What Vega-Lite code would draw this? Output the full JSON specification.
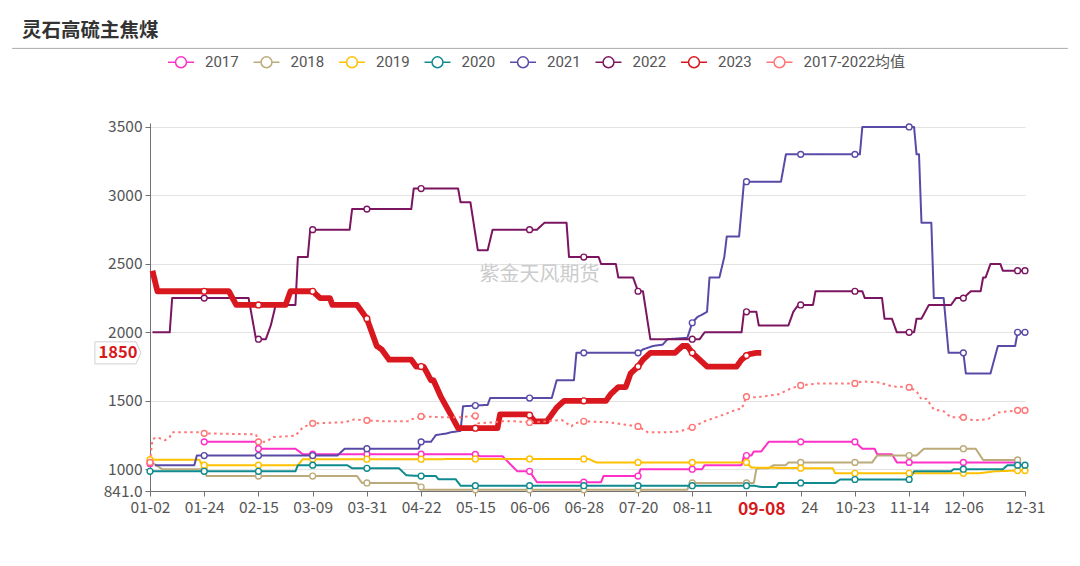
{
  "$schema": "https://vega.github.io/schema/vega-lite/v6.json",
  "width": 875,
  "height": 368,
  "autosize": {"type": "none"},
  "padding": {"left": 150, "top": 123, "right": 55, "bottom": 75},
  "background": "white",
  "config": {
    "view": {"stroke": null},
    "font": "Noto Sans CJK SC",
    "axis": {"labelFont": "Noto Sans CJK SC", "labelFontSize": 15.5, "labelColor": "#555555", "domainColor": "#707070", "tickColor": "#707070", "title": null}
  },
  "title": {"text": "灵石高硫主焦煤", "anchor": "start", "frame": "group", "dx": -128, "offset": 6, "fontSize": 19.5, "fontWeight": "bold", "font": "Noto Sans CJK SC", "color": "#333333"},
  "datasets": {
    "prices": [
      {"s":"2017","i":0,"v":1040,"g":"a"},
      {"s":"2017","i":22,"v":1200},{"s":"2017","i":43,"v":1200},{"s":"2017","i":44,"v":1150},{"s":"2017","i":59,"v":1150},{"s":"2017","i":62,"v":1110},{"s":"2017","i":66,"v":1110},{"s":"2017","i":88,"v":1110},{"s":"2017","i":110,"v":1110},{"s":"2017","i":131,"v":1110},{"s":"2017","i":132,"v":1108},{"s":"2017","i":134,"v":1095},{"s":"2017","i":143,"v":1095},{"s":"2017","i":147,"v":1022},{"s":"2017","i":149,"v":985},{"s":"2017","i":154,"v":985},{"s":"2017","i":157,"v":905},{"s":"2017","i":176,"v":905},{"s":"2017","i":183,"v":905},{"s":"2017","i":184,"v":950},{"s":"2017","i":198,"v":950},{"s":"2017","i":199,"v":1000},{"s":"2017","i":220,"v":1000},{"s":"2017","i":224,"v":1000},{"s":"2017","i":225,"v":1030},{"s":"2017","i":240,"v":1030},{"s":"2017","i":241,"v":1100},{"s":"2017","i":242,"v":1100},{"s":"2017","i":244,"v":1100},{"s":"2017","i":245,"v":1130},{"s":"2017","i":248,"v":1130},{"s":"2017","i":251,"v":1200},{"s":"2017","i":264,"v":1200},{"s":"2017","i":286,"v":1200},{"s":"2017","i":289,"v":1150},{"s":"2017","i":294,"v":1150},{"s":"2017","i":295,"v":1110},{"s":"2017","i":301,"v":1110},{"s":"2017","i":303,"v":1050},{"s":"2017","i":308,"v":1050},{"s":"2017","i":330,"v":1050},{"s":"2017","i":352,"v":1050},
      {"s":"2018","i":0,"v":1058},{"s":"2018","i":5,"v":1000},{"s":"2018","i":21,"v":1000},{"s":"2018","i":22,"v":1000},{"s":"2018","i":23,"v":950},{"s":"2018","i":44,"v":950},{"s":"2018","i":66,"v":950},{"s":"2018","i":84,"v":950},{"s":"2018","i":86,"v":900},{"s":"2018","i":88,"v":900},{"s":"2018","i":108,"v":900},{"s":"2018","i":110,"v":870},{"s":"2018","i":111,"v":850},{"s":"2018","i":132,"v":850},{"s":"2018","i":154,"v":850},{"s":"2018","i":176,"v":850},{"s":"2018","i":198,"v":850},{"s":"2018","i":218,"v":850},{"s":"2018","i":219,"v":900},{"s":"2018","i":220,"v":900},{"s":"2018","i":242,"v":900},{"s":"2018","i":245,"v":900},{"s":"2018","i":246,"v":1000},{"s":"2018","i":247,"v":1007},{"s":"2018","i":251,"v":1007},{"s":"2018","i":253,"v":1030},{"s":"2018","i":258,"v":1030},{"s":"2018","i":259,"v":1050},{"s":"2018","i":264,"v":1050},{"s":"2018","i":286,"v":1050},{"s":"2018","i":293,"v":1050},{"s":"2018","i":295,"v":1100},{"s":"2018","i":308,"v":1100},{"s":"2018","i":311,"v":1100},{"s":"2018","i":314,"v":1150},{"s":"2018","i":330,"v":1150},{"s":"2018","i":335,"v":1150},{"s":"2018","i":338,"v":1068},{"s":"2018","i":352,"v":1068},
      {"s":"2019","i":0,"v":1070},{"s":"2019","i":20,"v":1070},{"s":"2019","i":21,"v":1035},{"s":"2019","i":22,"v":1030},{"s":"2019","i":44,"v":1030},{"s":"2019","i":60,"v":1030},{"s":"2019","i":62,"v":1073},{"s":"2019","i":66,"v":1073},{"s":"2019","i":88,"v":1073},{"s":"2019","i":110,"v":1073},{"s":"2019","i":132,"v":1075},{"s":"2019","i":154,"v":1075},{"s":"2019","i":176,"v":1075},{"s":"2019","i":178,"v":1075},{"s":"2019","i":181,"v":1050},{"s":"2019","i":198,"v":1050},{"s":"2019","i":220,"v":1050},{"s":"2019","i":242,"v":1050},{"s":"2019","i":244,"v":1012},{"s":"2019","i":264,"v":1008},{"s":"2019","i":277,"v":1008},{"s":"2019","i":278,"v":970},{"s":"2019","i":286,"v":970},{"s":"2019","i":308,"v":970},{"s":"2019","i":330,"v":970},{"s":"2019","i":336,"v":970},{"s":"2019","i":343,"v":985},{"s":"2019","i":352,"v":990},{"s":"2019","i":355,"v":990},
      {"s":"2020","i":0,"v":985},{"s":"2020","i":22,"v":985},{"s":"2020","i":44,"v":985},{"s":"2020","i":59,"v":985},{"s":"2020","i":60,"v":1030},{"s":"2020","i":66,"v":1030},{"s":"2020","i":80,"v":1030},{"s":"2020","i":82,"v":1007},{"s":"2020","i":88,"v":1007},{"s":"2020","i":101,"v":1007},{"s":"2020","i":104,"v":956},{"s":"2020","i":110,"v":950},{"s":"2020","i":116,"v":950},{"s":"2020","i":117,"v":927},{"s":"2020","i":124,"v":927},{"s":"2020","i":126,"v":880},{"s":"2020","i":132,"v":880},{"s":"2020","i":154,"v":880},{"s":"2020","i":176,"v":880},{"s":"2020","i":198,"v":880},{"s":"2020","i":220,"v":880},{"s":"2020","i":242,"v":880},{"s":"2020","i":245,"v":880},{"s":"2020","i":248,"v":870},{"s":"2020","i":254,"v":870},{"s":"2020","i":255,"v":900},{"s":"2020","i":264,"v":900},{"s":"2020","i":278,"v":900},{"s":"2020","i":280,"v":925},{"s":"2020","i":286,"v":925},{"s":"2020","i":308,"v":925},{"s":"2020","i":310,"v":985},{"s":"2020","i":325,"v":985},{"s":"2020","i":326,"v":1000},{"s":"2020","i":330,"v":1000},{"s":"2020","i":346,"v":1000},{"s":"2020","i":348,"v":1030},{"s":"2020","i":352,"v":1030},{"s":"2020","i":355,"v":1030},
      {"s":"2021","i":2,"v":1030},{"s":"2021","i":18,"v":1030},{"s":"2021","i":19,"v":1100},{"s":"2021","i":22,"v":1100},{"s":"2021","i":44,"v":1100},{"s":"2021","i":66,"v":1100},{"s":"2021","i":76,"v":1100},{"s":"2021","i":79,"v":1150},{"s":"2021","i":88,"v":1150},{"s":"2021","i":109,"v":1150},{"s":"2021","i":110,"v":1200},{"s":"2021","i":114,"v":1200},{"s":"2021","i":116,"v":1250},{"s":"2021","i":120,"v":1260},{"s":"2021","i":122,"v":1270},{"s":"2021","i":126,"v":1280},{"s":"2021","i":127,"v":1460},{"s":"2021","i":132,"v":1465},{"s":"2021","i":137,"v":1470},{"s":"2021","i":138,"v":1520},{"s":"2021","i":154,"v":1520},{"s":"2021","i":163,"v":1520},{"s":"2021","i":165,"v":1650},{"s":"2021","i":172,"v":1650},{"s":"2021","i":173,"v":1850},{"s":"2021","i":176,"v":1850},{"s":"2021","i":198,"v":1850},{"s":"2021","i":200,"v":1875},{"s":"2021","i":204,"v":1900},{"s":"2021","i":208,"v":1910},{"s":"2021","i":210,"v":1950},{"s":"2021","i":218,"v":1960},{"s":"2021","i":220,"v":2070},{"s":"2021","i":222,"v":2110},{"s":"2021","i":226,"v":2150},{"s":"2021","i":227,"v":2400},{"s":"2021","i":231,"v":2400},{"s":"2021","i":233,"v":2550},{"s":"2021","i":234,"v":2700},{"s":"2021","i":239,"v":2700},{"s":"2021","i":241,"v":3100},{"s":"2021","i":242,"v":3100},{"s":"2021","i":256,"v":3100},{"s":"2021","i":258,"v":3300},{"s":"2021","i":264,"v":3300},{"s":"2021","i":286,"v":3300},{"s":"2021","i":288,"v":3300},{"s":"2021","i":289,"v":3500},{"s":"2021","i":308,"v":3500},{"s":"2021","i":310,"v":3500},{"s":"2021","i":311,"v":3300},{"s":"2021","i":312,"v":3300},{"s":"2021","i":313,"v":2800},{"s":"2021","i":317,"v":2800},{"s":"2021","i":318,"v":2250},{"s":"2021","i":322,"v":2250},{"s":"2021","i":324,"v":1850},{"s":"2021","i":330,"v":1850},{"s":"2021","i":331,"v":1700},{"s":"2021","i":341,"v":1700},{"s":"2021","i":344,"v":1900},{"s":"2021","i":351,"v":1900},{"s":"2021","i":352,"v":2000},{"s":"2021","i":355,"v":2000},
      {"s":"2022","i":1,"v":2000},{"s":"2022","i":8,"v":2000},{"s":"2022","i":9,"v":2250},{"s":"2022","i":22,"v":2250},{"s":"2022","i":40,"v":2250},{"s":"2022","i":43,"v":1950},{"s":"2022","i":44,"v":1950},{"s":"2022","i":47,"v":1950},{"s":"2022","i":49,"v":2050},{"s":"2022","i":51,"v":2200},{"s":"2022","i":59,"v":2200},{"s":"2022","i":60,"v":2550},{"s":"2022","i":64,"v":2550},{"s":"2022","i":65,"v":2750},{"s":"2022","i":66,"v":2750},{"s":"2022","i":81,"v":2750},{"s":"2022","i":82,"v":2900},{"s":"2022","i":88,"v":2900},{"s":"2022","i":106,"v":2900},{"s":"2022","i":107,"v":3050},{"s":"2022","i":110,"v":3050},{"s":"2022","i":125,"v":3050},{"s":"2022","i":126,"v":2950},{"s":"2022","i":130,"v":2950},{"s":"2022","i":133,"v":2600},{"s":"2022","i":137,"v":2600},{"s":"2022","i":139,"v":2750},{"s":"2022","i":154,"v":2750},{"s":"2022","i":157,"v":2750},{"s":"2022","i":160,"v":2800},{"s":"2022","i":169,"v":2800},{"s":"2022","i":170,"v":2550},{"s":"2022","i":176,"v":2550},{"s":"2022","i":182,"v":2550},{"s":"2022","i":183,"v":2500},{"s":"2022","i":189,"v":2500},{"s":"2022","i":190,"v":2400},{"s":"2022","i":196,"v":2400},{"s":"2022","i":198,"v":2300},{"s":"2022","i":200,"v":2300},{"s":"2022","i":203,"v":1950},{"s":"2022","i":220,"v":1950},{"s":"2022","i":223,"v":1950},{"s":"2022","i":225,"v":2000},{"s":"2022","i":240,"v":2000},{"s":"2022","i":241,"v":2150},{"s":"2022","i":242,"v":2150},{"s":"2022","i":246,"v":2150},{"s":"2022","i":247,"v":2050},{"s":"2022","i":259,"v":2050},{"s":"2022","i":261,"v":2150},{"s":"2022","i":263,"v":2200},{"s":"2022","i":264,"v":2200},{"s":"2022","i":269,"v":2200},{"s":"2022","i":270,"v":2300},{"s":"2022","i":286,"v":2300},{"s":"2022","i":289,"v":2300},{"s":"2022","i":290,"v":2250},{"s":"2022","i":297,"v":2250},{"s":"2022","i":298,"v":2100},{"s":"2022","i":301,"v":2100},{"s":"2022","i":303,"v":2000},{"s":"2022","i":308,"v":2000},{"s":"2022","i":310,"v":2000},{"s":"2022","i":311,"v":2100},{"s":"2022","i":313,"v":2100},{"s":"2022","i":316,"v":2200},{"s":"2022","i":325,"v":2200},{"s":"2022","i":327,"v":2250},{"s":"2022","i":330,"v":2250},{"s":"2022","i":333,"v":2300},{"s":"2022","i":337,"v":2300},{"s":"2022","i":338,"v":2400},{"s":"2022","i":339,"v":2400},{"s":"2022","i":341,"v":2500},{"s":"2022","i":345,"v":2500},{"s":"2022","i":346,"v":2450},{"s":"2022","i":352,"v":2450},{"s":"2022","i":355,"v":2450},
      {"s":"2023","i":1,"v":2450},{"s":"2023","i":3,"v":2300},{"s":"2023","i":22,"v":2300},{"s":"2023","i":32,"v":2300},{"s":"2023","i":35,"v":2200},{"s":"2023","i":44,"v":2200},{"s":"2023","i":55,"v":2200},{"s":"2023","i":57,"v":2300},{"s":"2023","i":66,"v":2300},{"s":"2023","i":69,"v":2250},{"s":"2023","i":73,"v":2250},{"s":"2023","i":74,"v":2200},{"s":"2023","i":84,"v":2200},{"s":"2023","i":88,"v":2100},{"s":"2023","i":90,"v":2000},{"s":"2023","i":92,"v":1900},{"s":"2023","i":94,"v":1875},{"s":"2023","i":97,"v":1800},{"s":"2023","i":106,"v":1800},{"s":"2023","i":108,"v":1750},{"s":"2023","i":110,"v":1750},{"s":"2023","i":111,"v":1750},{"s":"2023","i":114,"v":1650},{"s":"2023","i":115,"v":1650},{"s":"2023","i":118,"v":1530},{"s":"2023","i":122,"v":1400},{"s":"2023","i":125,"v":1300},{"s":"2023","i":132,"v":1300},{"s":"2023","i":141,"v":1300},{"s":"2023","i":142,"v":1400},{"s":"2023","i":153,"v":1400},{"s":"2023","i":154,"v":1395},{"s":"2023","i":156,"v":1350},{"s":"2023","i":161,"v":1350},{"s":"2023","i":165,"v":1450},{"s":"2023","i":168,"v":1500},{"s":"2023","i":176,"v":1500},{"s":"2023","i":185,"v":1500},{"s":"2023","i":187,"v":1550},{"s":"2023","i":190,"v":1600},{"s":"2023","i":193,"v":1600},{"s":"2023","i":195,"v":1700},{"s":"2023","i":198,"v":1750},{"s":"2023","i":200,"v":1800},{"s":"2023","i":203,"v":1850},{"s":"2023","i":213,"v":1850},{"s":"2023","i":216,"v":1900},{"s":"2023","i":218,"v":1900},{"s":"2023","i":220,"v":1850},{"s":"2023","i":223,"v":1800},{"s":"2023","i":226,"v":1750},{"s":"2023","i":238,"v":1750},{"s":"2023","i":240,"v":1800},{"s":"2023","i":242,"v":1830},{"s":"2023","i":243,"v":1840},{"s":"2023","i":246,"v":1850},{"s":"2023","i":248,"v":1850},
      {"s":"2017-2022均值","i":0,"v":1050},{"s":"2017-2022均值","i":1,"v":1220},{"s":"2017-2022均值","i":3,"v":1233},{"s":"2017-2022均值","i":6,"v":1211},{"s":"2017-2022均值","i":8,"v":1235},{"s":"2017-2022均值","i":9,"v":1270},{"s":"2017-2022均值","i":20,"v":1270},{"s":"2017-2022均值","i":22,"v":1262},{"s":"2017-2022均值","i":43,"v":1255},{"s":"2017-2022均值","i":44,"v":1200},{"s":"2017-2022均值","i":47,"v":1200},{"s":"2017-2022均值","i":50,"v":1235},{"s":"2017-2022均值","i":55,"v":1240},{"s":"2017-2022均值","i":59,"v":1245},{"s":"2017-2022均值","i":62,"v":1306},{"s":"2017-2022均值","i":66,"v":1335},{"s":"2017-2022均值","i":79,"v":1343},{"s":"2017-2022均值","i":83,"v":1364},{"s":"2017-2022均值","i":88,"v":1357},{"s":"2017-2022均值","i":95,"v":1350},{"s":"2017-2022均值","i":105,"v":1350},{"s":"2017-2022均值","i":106,"v":1364},{"s":"2017-2022均值","i":110,"v":1386},{"s":"2017-2022均值","i":118,"v":1380},{"s":"2017-2022均值","i":126,"v":1380},{"s":"2017-2022均值","i":132,"v":1390},{"s":"2017-2022均值","i":133,"v":1335},{"s":"2017-2022均值","i":139,"v":1342},{"s":"2017-2022均值","i":143,"v":1350},{"s":"2017-2022均值","i":148,"v":1350},{"s":"2017-2022均值","i":154,"v":1342},{"s":"2017-2022均值","i":161,"v":1350},{"s":"2017-2022均值","i":167,"v":1360},{"s":"2017-2022均值","i":171,"v":1313},{"s":"2017-2022均值","i":172,"v":1335},{"s":"2017-2022均值","i":176,"v":1350},{"s":"2017-2022均值","i":186,"v":1343},{"s":"2017-2022均值","i":195,"v":1320},{"s":"2017-2022均值","i":198,"v":1313},{"s":"2017-2022均值","i":202,"v":1270},{"s":"2017-2022均值","i":210,"v":1270},{"s":"2017-2022均值","i":215,"v":1277},{"s":"2017-2022均值","i":220,"v":1306},{"s":"2017-2022均值","i":225,"v":1350},{"s":"2017-2022均值","i":233,"v":1400},{"s":"2017-2022均值","i":238,"v":1437},{"s":"2017-2022均值","i":240,"v":1440},{"s":"2017-2022均值","i":242,"v":1530},{"s":"2017-2022均值","i":246,"v":1525},{"s":"2017-2022均值","i":255,"v":1547},{"s":"2017-2022均值","i":260,"v":1590},{"s":"2017-2022均值","i":264,"v":1612},{"s":"2017-2022均值","i":271,"v":1627},{"s":"2017-2022均值","i":286,"v":1627},{"s":"2017-2022均值","i":289,"v":1641},{"s":"2017-2022均值","i":296,"v":1634},{"s":"2017-2022均值","i":301,"v":1605},{"s":"2017-2022均值","i":308,"v":1598},{"s":"2017-2022均值","i":311,"v":1570},{"s":"2017-2022均值","i":313,"v":1510},{"s":"2017-2022均值","i":315,"v":1515},{"s":"2017-2022均值","i":318,"v":1437},{"s":"2017-2022均值","i":322,"v":1423},{"s":"2017-2022均值","i":325,"v":1379},{"s":"2017-2022均值","i":330,"v":1379},{"s":"2017-2022均值","i":334,"v":1357},{"s":"2017-2022均值","i":340,"v":1365},{"s":"2017-2022均值","i":344,"v":1415},{"s":"2017-2022均值","i":352,"v":1430},{"s":"2017-2022均值","i":355,"v":1430}
    ]
  },
  "layer": [
    {
      "data": {"values": [{"t": "紫金天风期货"}]},
      "mark": {"type": "text", "fontSize": 20, "color": "#cccccc", "font": "Noto Sans CJK SC", "align": "center", "baseline": "middle"},
      "encoding": {
        "x": {"datum": 158, "type": "quantitative", "scale": {"domain": [0, 355], "nice": false, "zero": false}},
        "y": {"datum": 2421, "type": "quantitative", "scale": {"domain": [841, 3529], "nice": false, "zero": false}},
        "text": {"field": "t"}
      }
    },
    {
      "data": {"values": [{"t": "rule"}]},
      "mark": {"type": "rule", "color": "#aaaaaa", "strokeWidth": 1, "clip": false},
      "encoding": {
        "x": {"datum": -56, "type": "quantitative"},
        "x2": {"datum": 372.4},
        "y": {"datum": 4074, "type": "quantitative"}
      }
    },
    {
      "data": {"name": "prices"},
      "mark": {"type": "line", "interpolate": "linear", "strokeJoin": "round", "strokeCap": "butt"},
      "encoding": {
        "x": {"field": "i", "type": "quantitative", "scale": {"domain": [0, 355], "nice": false, "zero": false},
          "axis": {
            "values": [0,22,44,66,88,110,132,154,176,198,220,242,248,264,286,308,330,355],
            "labelExpr": "datum.value == 248 ? '09-08' : datum.value == 242 ? '' : datum.value == 264 ? '24' : ['01-02','01-24','02-15','03-09','03-31','04-22','05-15','06-06','06-28','07-20','08-11','','','10-23','11-14','12-06','12-31'][floor(datum.value/22)]",
            "labelOverlap": false,
            "labelPadding": 4,
            "tickSize": 5,
            "grid": false,
            "labelColor": {"condition": {"test": "datum.value == 248", "value": "#d7191c"}, "value": "#555555"},
            "labelFontWeight": {"condition": {"test": "datum.value == 248", "value": "bold"}, "value": "normal"},
            "labelFontSize": {"condition": {"test": "datum.value == 248", "value": 17.5}, "value": 15.5},
            "tickOpacity": {"condition": {"test": "datum.value == 248", "value": 0}, "value": 1},
            "labelAlign": {"condition": {"test": "datum.value == 264", "value": "left"}, "value": "center"}
          }
        },
        "y": {"field": "v", "type": "quantitative", "scale": {"domain": [841, 3529], "nice": false, "zero": false},
          "axis": {
            "values": [841, 1000, 1500, 2000, 2500, 3000, 3500],
            "format": "d",
            "labelExpr": "datum.value == 841 ? '841.0' : datum.label",
            "grid": true,
            "gridColor": "#e2e2e2",
            "gridWidth": 1.2,
            "tickSize": 5,
            "labelPadding": 3
          }
        },
        "color": {"field": "s", "type": "nominal",
          "scale": {"domain": ["2017","2018","2019","2020","2021","2022","2023","2017-2022均值"],
                    "range": ["#ff30c8","#bcaa7a","#ffc000","#0f8a8f","#5a4aa8","#7b1560","#d9171e","#ff7474"]},
          "legend": {
            "title": null, "orient": "none", "legendX": 17, "legendY": -75, "direction": "horizontal", "columns": 8,
            "symbolType": "M-1,0L-0.42,0M0.42,0L1,0M0.42,0A0.42,0.42 0 1 1 -0.42,0A0.42,0.42 0 1 1 0.42,0",
            "symbolSize": 676, "symbolStrokeWidth": 1.5, "labelFontSize": 15, "labelColor": "#555555", "labelFont": "Roboto, Noto Sans CJK SC",
            "columnPadding": 11.5, "labelOffset": 10,
            "encode": {"symbols": {"update": {"fill": {"value": "white"}, "strokeWidth": {"value": 1.5}, "strokeDash": {"value": []}, "opacity": {"value": 1}}}}
          }
        },
        "detail": {"field": "g"},
        "strokeWidth": {"condition": {"test": "datum.s == '2023'", "value": 5.8}, "value": 2},
        "strokeDash": {"condition": {"test": "datum.s == '2017-2022均值'", "value": [2.5, 3.5]}, "value": [1, 0]}
      }
    },
    {
      "data": {"name": "prices"},
      "transform": [{"filter": "indexof([0,22,44,66,88,110,132,154,176,198,220,242,264,286,308,330,352,355], datum.i) >= 0"}],
      "mark": {"type": "point", "filled": false, "fill": "white", "size": 34, "strokeWidth": 1.4, "opacity": 1},
      "encoding": {
        "x": {"field": "i", "type": "quantitative"},
        "y": {"field": "v", "type": "quantitative"},
        "color": {"field": "s", "type": "nominal", "legend": null}
      }
    },
    {
      "data": {"name": "prices"},
      "transform": [{"filter": "datum.s == '2023' && datum.i == 248"}],
      "mark": {"type": "point", "shape": "M-0.96,-0.46L0.75,-0.46L0.96,0L0.75,0.46L-0.96,0.46Z", "size": 2304, "filled": true, "fill": "white", "stroke": "#d0d0d0", "strokeWidth": 1, "opacity": 1},
      "encoding": {
        "x": {"datum": -13, "type": "quantitative"},
        "y": {"field": "v", "type": "quantitative"}
      }
    },
    {
      "data": {"name": "prices"},
      "transform": [{"filter": "datum.s == '2023' && datum.i == 248"}],
      "mark": {"type": "text", "fontSize": 16.5, "fontWeight": "bold", "color": "#d7191c", "font": "Noto Sans CJK SC", "align": "center", "baseline": "middle"},
      "encoding": {
        "x": {"datum": -13, "type": "quantitative"},
        "y": {"field": "v", "type": "quantitative"},
        "text": {"field": "v", "type": "quantitative", "format": "d"}
      }
    }
  ]
}
